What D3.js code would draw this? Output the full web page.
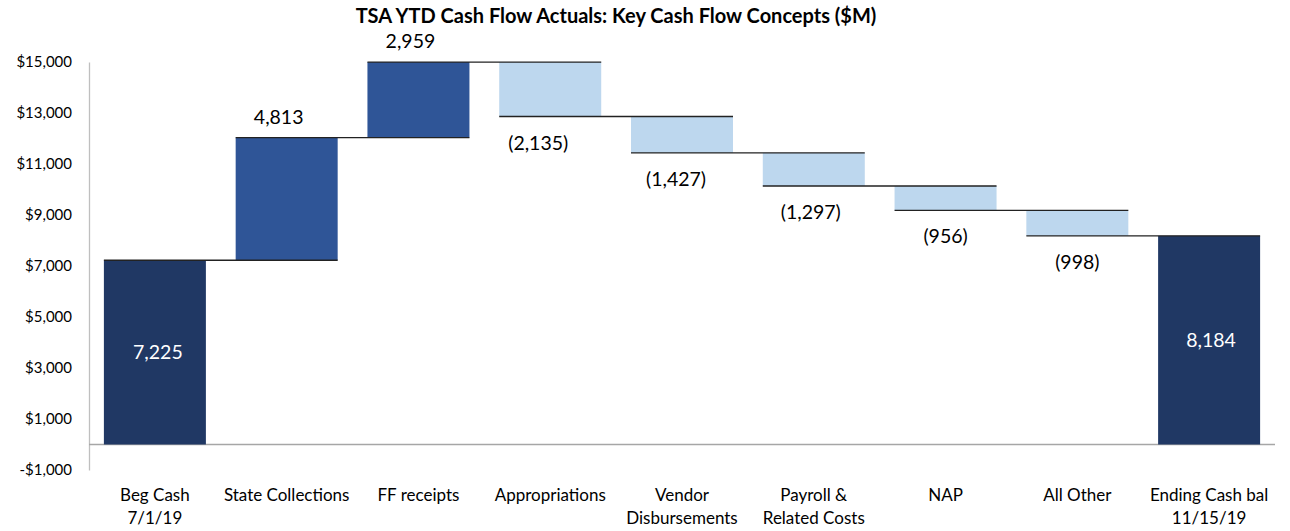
<!DOCTYPE html>
<html>
<head>
<meta charset="utf-8">
<script src="https://cdn.jsdelivr.net/npm/d3@7"></script>
<style>
    body { margin: 0; background: #fff; }
    text { font-family: Lato, "Open Sans", sans-serif; }
</style>
</head>
<body>
<div id="chart"></div>
<script>
//chart data:
var categories = ["Beg Cash\n7/1/19", "State Collections", "FF receipts", "Appropriations",
    "Vendor\nDisbursements", "Payroll &\nRelated Costs", "NAP", "All Other", "Ending Cash bal\n11/15/19"];
var changes = [7225, 4813, 2959, -2135, -1427, -1297, -956, -998, 8184];
var kinds = ["total", "up", "up", "down", "down", "down", "down", "down", "total"];
var labels = ["7,225", "4,813", "2,959", "(2,135)", "(1,427)", "(1,297)", "(956)", "(998)", "8,184"];
var yTicks = [-1000, 1000, 3000, 5000, 7000, 9000, 11000, 13000, 15000];

var colorMap = {total: "#203864", up: "#2F5597", down: "#BDD7EE"};

var width = 1290, height = 531;

//build running start/end for each bar
var bars = [];
var running = 0;
changes.forEach(function (v, i) {
    var start, end;
    if (kinds[i] === "total") {
        start = 0; end = v; running = v;
    } else {
        start = running; end = running + v; running = end;
    }
    bars.push({name: categories[i], start: start, end: end, kind: kinds[i], label: labels[i]});
});

var svg = d3.select("#chart")
    .append("svg")
    .attr("width", width)
    .attr("height", height);

//scales
var xScale = d3.scaleBand()
    .domain(categories)
    .range([89, 1275])
    .paddingInner(0.226)
    .paddingOuter(0.113);

var yScale = d3.scaleLinear()
    .domain([-1000, 15000])
    .range([470, 62]);

//title
svg.append("text")
    .attr("x", 616)
    .attr("y", 23)
    .attr("text-anchor", "middle")
    .style("font-size", "20px")
    .style("font-weight", "bold")
    .text("TSA YTD Cash Flow Actuals: Key Cash Flow Concepts ($M)");

//y axis
var yAxis = d3.axisLeft(yScale)
    .tickValues(yTicks)
    .tickSize(0)
    .tickPadding(17)
    .tickFormat(function (d) {
        return (d < 0 ? "-$" : "$") + d3.format(",")(Math.abs(d));
    });

var yG = svg.append("g")
    .attr("transform", "translate(89,0)")
    .call(yAxis);
yG.select(".domain").attr("stroke", "#bfbfbf").attr("stroke-width", 1.3);
yG.selectAll("text")
    .style("font-family", "Lato, sans-serif")
    .style("font-size", "15px")
    .attr("fill", "#000");

//zero line
svg.append("line")
    .attr("x1", 89).attr("x2", 1275)
    .attr("y1", yScale(0)).attr("y2", yScale(0))
    .attr("stroke", "#a6a6a6")
    .attr("stroke-width", 1.3);

//bars
svg.selectAll(".bar")
    .data(bars)
    .enter().append("rect")
    .attr("class", "bar")
    .attr("x", function (d) { return xScale(d.name); })
    .attr("width", xScale.bandwidth())
    .attr("y", function (d) { return yScale(Math.max(d.start, d.end)); })
    .attr("height", function (d) { return Math.abs(yScale(d.start) - yScale(d.end)); })
    .style("fill", function (d) { return colorMap[d.kind]; });

//connectors: from left of bar i to right of bar i+1
svg.selectAll(".conn")
    .data(bars.slice(0, -1))
    .enter().append("line")
    .attr("class", "conn")
    .attr("x1", function (d) { return xScale(d.name); })
    .attr("x2", function (d, i) { return xScale(categories[i + 1]) + xScale.bandwidth(); })
    .attr("y1", function (d) { return yScale(d.end); })
    .attr("y2", function (d) { return yScale(d.end); })
    .attr("stroke", "#222")
    .attr("stroke-width", 1.3);

//small horizontal nudges of the data labels, as placed in the original
var labelShift = [3, -8, -8, -12, -6, -3, 0, 0, 2];

//data labels
svg.selectAll(".lbl")
    .data(bars)
    .enter().append("text")
    .attr("class", "lbl")
    .attr("x", function (d, i) { return xScale(d.name) + xScale.bandwidth() / 2 + labelShift[i]; })
    .attr("y", function (d) {
        if (d.kind === "total") return yScale(d.end / 2) + 7;
        if (d.kind === "up") return yScale(d.end) - 14;
        return yScale(d.end) + 33;
    })
    .attr("text-anchor", "middle")
    .style("font-size", "19.5px")
    .attr("fill", function (d) { return d.kind === "total" ? "#fff" : "#000"; })
    .text(function (d) { return d.label; });

//category labels
var cat = svg.selectAll(".cat")
    .data(categories)
    .enter().append("text")
    .attr("class", "cat")
    .attr("x", function (d) { return xScale(d) + xScale.bandwidth() / 2; })
    .attr("y", 501)
    .attr("text-anchor", "middle")
    .style("font-size", "17px");
cat.selectAll("tspan")
    .data(function (d) { return d.split("\n"); })
    .enter().append("tspan")
    .attr("x", function () { return d3.select(this.parentNode).attr("x"); })
    .attr("dy", function (d, i) { return i === 0 ? 0 : 22.5; })
    .text(function (d) { return d; });
</script>
</body>
</html>
